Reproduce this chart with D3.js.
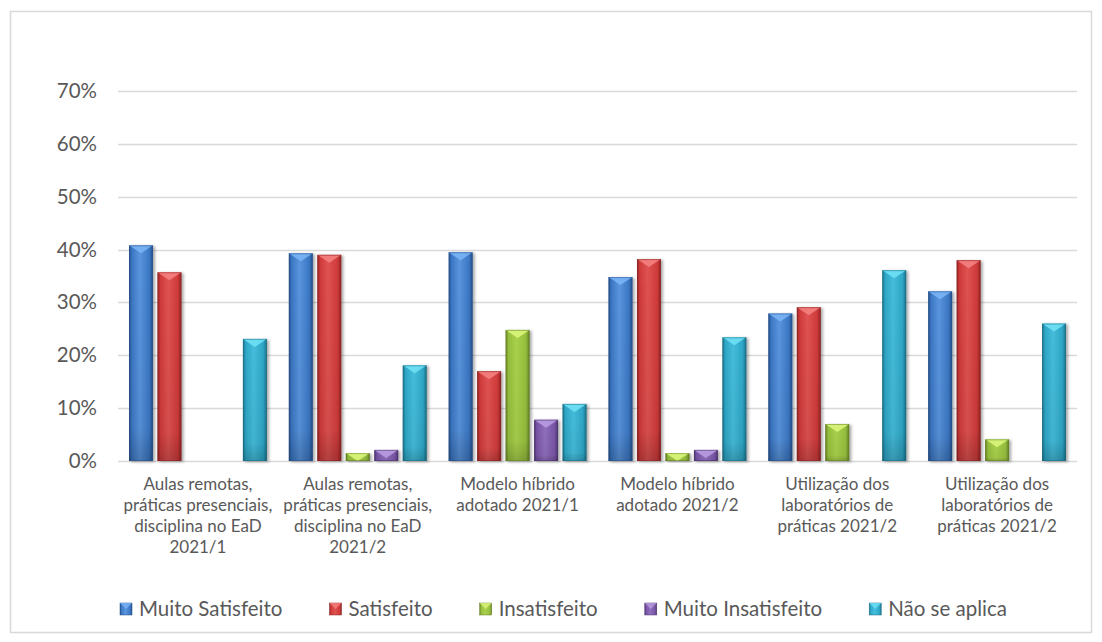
<!DOCTYPE html>
<html>
<head>
<meta charset="utf-8">
<script src="https://cdn.jsdelivr.net/npm/d3@7"></script>
<style>
  html, body { margin: 0; padding: 0; background: #fff; }
  svg { display: block; }
  text { font-family: Lato, "Open Sans", sans-serif; fill: #595959; }
</style>
</head>
<body>
<svg id="chart" width="1102" height="642"></svg>
<script>
// ---- data ----
const categories = [
  ["Aulas remotas,", "práticas presenciais,", "disciplina no EaD", "2021/1"],
  ["Aulas remotas,", "práticas presenciais,", "disciplina no EaD", "2021/2"],
  ["Modelo híbrido", "adotado 2021/1"],
  ["Modelo híbrido", "adotado 2021/2"],
  ["Utilização dos", "laboratórios de", "práticas 2021/2"],
  ["Utilização dos", "laboratórios de", "práticas 2021/2"]
];
const seriesNames = ["Muito Satisfeito", "Satisfeito", "Insatisfeito", "Muito Insatisfeito", "Não se aplica"];
const muitoSatisfeito   = [0.408, 0.393, 0.395, 0.348, 0.279, 0.321];
const satisfeito        = [0.357, 0.390, 0.170, 0.382, 0.291, 0.380];
const insatisfeito      = [0,     0.015, 0.248, 0.015, 0.070, 0.041];
const muitoInsatisfeito = [0,     0.021, 0.078, 0.021, 0,     0];
const naoSeAplica       = [0.231, 0.181, 0.108, 0.234, 0.361, 0.260];
const yTicks = [0, 0.1, 0.2, 0.3, 0.4, 0.5, 0.6, 0.7];

const seriesValues = [muitoSatisfeito, satisfeito, insatisfeito, muitoInsatisfeito, naoSeAplica];
const palette = [
  {base: "#3b77c4", dark: "#254f8a", light: "#5a95de", cap: "#79b4f5"},
  {base: "#cf3a3a", dark: "#8e2424", light: "#e05252", cap: "#f48080"},
  {base: "#95bf3d", dark: "#647f25", light: "#aad14c", cap: "#d9f57a"},
  {base: "#7a55a8", dark: "#4e3570", light: "#9070bd", cap: "#b89be0"},
  {base: "#2ea6c6", dark: "#1b6f86", light: "#45bddb", cap: "#6fe0f5"}
];

// ---- layout ----
const svg = d3.select("#chart");
const plot = {left: 118, right: 1077, top: 91, bottom: 461};

svg.append("rect")
  .attr("x", 10.5).attr("y", 11.5)
  .attr("width", 1081).attr("height", 621)
  .attr("fill", "#fff").attr("stroke", "#d9d9d9").attr("stroke-width", 1.5);

const y = d3.scaleLinear().domain([0, 0.7]).range([plot.bottom, plot.top]);
const x0 = d3.scaleBand().domain(d3.range(categories.length)).range([plot.left, plot.right]).padding(0);
const x1 = d3.scaleBand().domain(d3.range(seriesNames.length))
  .range([11, x0.bandwidth() - 11]).paddingInner(0.16).paddingOuter(0);

// defs: gradients + shadow
const defs = svg.append("defs");
palette.forEach((c, i) => {
  const g = defs.append("linearGradient").attr("id", "grad" + i)
    .attr("x1", "0").attr("x2", "1").attr("y1", "0").attr("y2", "0");
  g.append("stop").attr("offset", "0").attr("stop-color", c.dark);
  g.append("stop").attr("offset", "0.12").attr("stop-color", c.base);
  g.append("stop").attr("offset", "0.45").attr("stop-color", c.light);
  g.append("stop").attr("offset", "0.85").attr("stop-color", c.base);
  g.append("stop").attr("offset", "1").attr("stop-color", c.dark);
  const gv = defs.append("linearGradient").attr("id", "vgrad" + i)
    .attr("x1", "0").attr("x2", "0").attr("y1", "0").attr("y2", "1");
  gv.append("stop").attr("offset", "0").attr("stop-color", "#000").attr("stop-opacity", 0);
  gv.append("stop").attr("offset", "0.85").attr("stop-color", "#000").attr("stop-opacity", 0.05);
  gv.append("stop").attr("offset", "1").attr("stop-color", "#000").attr("stop-opacity", 0.2);
});
const f = defs.append("filter").attr("id", "shadow").attr("x", "-20%").attr("y", "-10%").attr("width", "150%").attr("height", "130%");
f.append("feGaussianBlur").attr("in", "SourceAlpha").attr("stdDeviation", 1.6).attr("result", "b");
f.append("feOffset").attr("in", "b").attr("dx", 2).attr("dy", 1).attr("result", "o");
f.append("feComponentTransfer").attr("in", "o").attr("result", "o2")
  .append("feFuncA").attr("type", "linear").attr("slope", 0.35);
const fm = f.append("feMerge");
fm.append("feMergeNode").attr("in", "o2");
fm.append("feMergeNode").attr("in", "SourceGraphic");

// gridlines
svg.append("g").selectAll("line").data(yTicks).join("line")
  .attr("x1", plot.left).attr("x2", plot.right)
  .attr("y1", d => Math.round(y(d)) + 0.5).attr("y2", d => Math.round(y(d)) + 0.5)
  .attr("stroke", "#d9d9d9").attr("stroke-width", 1.5);

// y axis labels via d3 axis
const yAxis = d3.axisLeft(y).tickValues(yTicks).tickFormat(d3.format(".0%")).tickSize(0).tickPadding(0);
const ya = svg.append("g").attr("transform", "translate(97,0)").call(yAxis);
ya.select(".domain").remove();
ya.selectAll("text").style("font-family", "Lato, sans-serif").style("font-size", "20.5px").attr("fill", "#595959");

// bars
const groups = svg.append("g").selectAll("g").data(categories).join("g")
  .attr("transform", (d, i) => `translate(${x0(i)},0)`);

groups.each(function(cat, ci) {
  const g = d3.select(this);
  seriesValues.forEach((vals, si) => {
    const v = vals[ci];
    if (!v) return;
    const bx = x1(si), bw = x1.bandwidth();
    const top = y(v), bot = y(0);
    const h = bot - top;
    const c = palette[si];
    const bar = g.append("g").attr("filter", "url(#shadow)");
    bar.append("rect").attr("x", bx).attr("y", top).attr("width", bw).attr("height", h)
      .attr("fill", `url(#grad${si})`);
    bar.append("rect").attr("x", bx).attr("y", top).attr("width", bw).attr("height", h)
      .attr("fill", `url(#vgrad${si})`);
    const capH = Math.min(8, h);
    bar.append("polygon")
      .attr("points", `${bx},${top} ${bx + bw},${top} ${bx + bw / 2},${top + capH}`)
      .attr("fill", c.cap).attr("opacity", 0.9);
    bar.append("rect").attr("x", bx + 0.5).attr("y", top + 0.5).attr("width", bw - 1).attr("height", h - 1)
      .attr("fill", "none").attr("stroke", c.dark).attr("stroke-opacity", 0.5).attr("stroke-width", 1);
  });
});

// category labels
const xAxis = d3.axisBottom(x0).tickSize(0).tickFormat(() => "");
const xa = svg.append("g").attr("transform", `translate(0,${plot.bottom})`).call(xAxis);
xa.select(".domain").remove();
xa.selectAll(".tick").each(function(d) {
  const t = d3.select(this).append("text")
    .attr("text-anchor", "middle").attr("fill", "#595959")
    .style("font-family", "Lato, sans-serif").style("font-size", "17px");
  categories[d].forEach((line, li) => {
    t.append("tspan").attr("x", 0).attr("y", 29 + li * 21).text(line);
  });
});

// legend
const legend = svg.append("g");
const items = legend.selectAll("g").data(seriesNames).join("g");
items.append("rect").attr("width", 12).attr("height", 12).attr("y", -6)
  .attr("fill", (d, i) => `url(#grad${i})`).attr("stroke", (d, i) => palette[i].dark).attr("stroke-width", 0.5);
items.append("polygon").attr("points", "0,-6 12,-6 6,0").attr("fill", (d, i) => palette[i].cap).attr("opacity", 0.8);
items.append("text").attr("x", 19).attr("dy", "0.35em")
  .style("font-family", "Lato, sans-serif").style("font-size", "20.5px").text(d => d);
const widths = [];
items.each(function() { widths.push(this.querySelector("text").getComputedTextLength() + 19); });
const legStart = 120, legEnd = 1007;
const gap = (legEnd - legStart - d3.sum(widths)) / (widths.length - 1);
items.attr("transform", (d, i) => {
  const tx = legStart + d3.sum(widths.slice(0, i)) + gap * i;
  return `translate(${tx},609)`;
});
</script>
</body>
</html>
